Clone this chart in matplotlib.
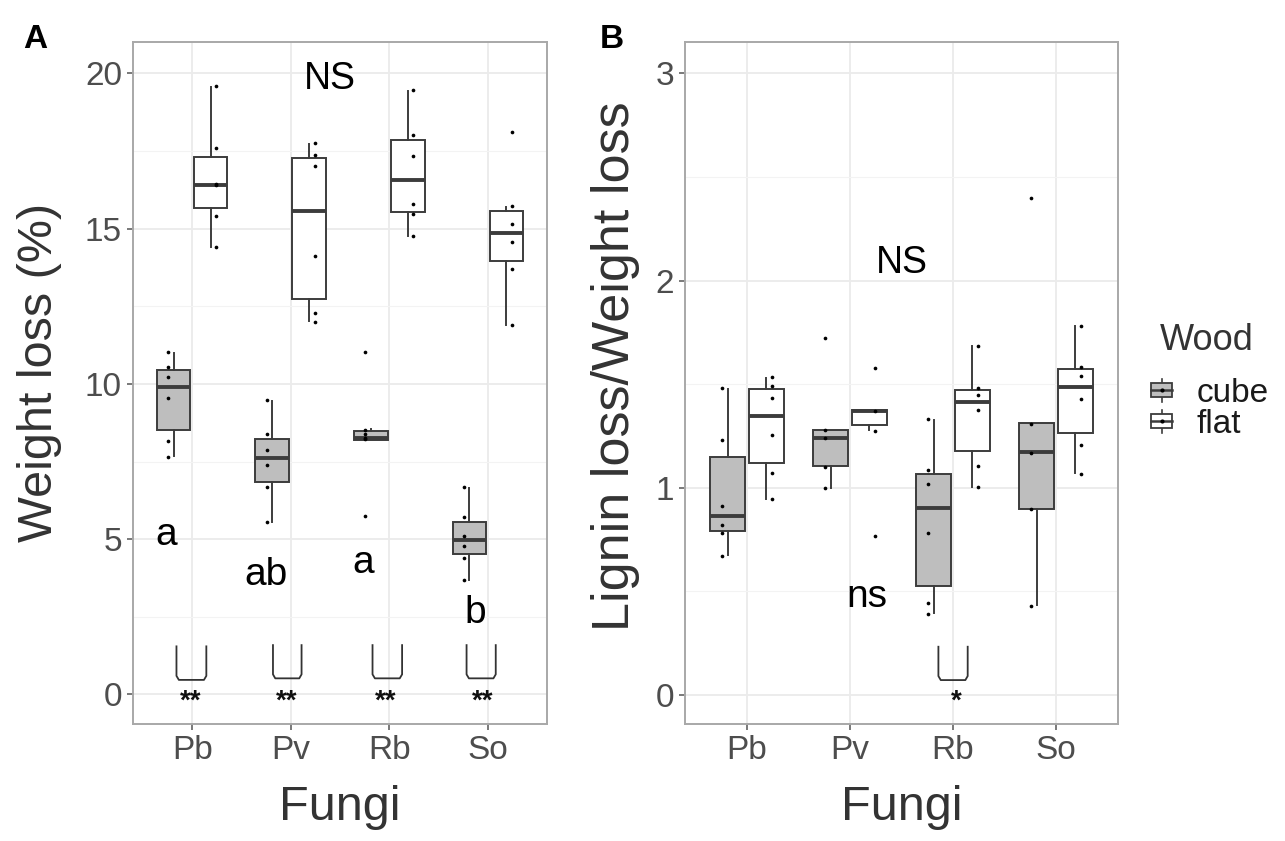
import matplotlib
matplotlib.use("Agg")
import matplotlib.pyplot as plt
from matplotlib.legend_handler import HandlerBase
from matplotlib.patches import Rectangle
from matplotlib.lines import Line2D

plt.rcParams['font.family'] = ['Liberation Sans', 'DejaVu Sans']

# ---------------- data ----------------
fungi = ["Pb", "Pv", "Rb", "So"]
woods = ["cube", "flat"]

# Panel A: weight loss (%) box statistics  [whislo, q1, med, q3, whishi]
A_cube_box = [[7.67, 8.51, 9.90, 10.46, 11.00],
              [5.56, 6.85, 7.63, 8.24, 9.45],
              [8.21, 8.21, 8.27, 8.48, 8.55],
              [3.70, 4.51, 4.97, 5.56, 6.65]]
A_flat_box = [[14.41, 15.65, 16.40, 17.31, 19.56],
              [12.02, 12.75, 15.56, 17.29, 17.74],
              [14.75, 15.54, 16.56, 17.87, 19.43],
              [11.91, 13.95, 14.86, 15.57, 15.70]]
A_cube_pts = [[11.02, 10.55, 10.23, 9.56, 8.16, 7.65],
              [9.47, 8.38, 7.87, 7.39, 6.68, 5.55],
              [11.02, 8.53, 8.40, 8.27, 8.22, 5.74],
              [6.68, 5.70, 5.10, 4.78, 4.40, 3.68]]
A_flat_pts = [[19.58, 17.60, 16.45, 16.40, 15.41, 14.41],
              [17.76, 17.38, 17.01, 14.12, 12.27, 12.00],
              [19.45, 18.03, 17.33, 15.79, 15.46, 14.75],
              [18.11, 15.72, 15.16, 14.56, 13.70, 11.89]]

# Panel B: lignin loss / weight loss
B_cube_box = [[0.676, 0.792, 0.866, 1.151, 1.477],
              [1.000, 1.103, 1.240, 1.277, 1.280],
              [0.395, 0.528, 0.902, 1.068, 1.325],
              [0.435, 0.899, 1.171, 1.312, 1.312]]
B_flat_box = [[0.947, 1.118, 1.345, 1.477, 1.530],
              [1.280, 1.301, 1.369, 1.377, 1.377],
              [1.006, 1.176, 1.412, 1.473, 1.686],
              [1.071, 1.264, 1.485, 1.575, 1.783]]
B_cube_pts = [[1.480, 1.232, 0.913, 0.821, 0.784, 0.671],
              [1.723, 1.280, 1.240, 1.100, 1.000],
              [1.330, 1.084, 1.018, 0.781, 0.443, 0.391],
              [2.400, 1.310, 1.170, 0.899, 0.431]]
B_flat_pts = [[1.535, 1.493, 1.433, 1.256, 1.071, 0.945],
              [1.578, 1.370, 1.275, 0.768],
              [1.686, 1.482, 1.449, 1.377, 1.106, 1.006],
              [1.783, 1.583, 1.541, 1.428, 1.208, 1.066]]

# annotations
A_letters = ["a", "ab", "a", "b"]
A_letter_xy = [(0.74, 4.81), (1.75, 3.52), (2.74, 3.90), (3.87, 2.29)]
A_sig = ["**", "**", "**", "**"]
A_brackets = [(0.841, 1.144, 1.55, 0.47), (1.82, 2.11, 1.59, 0.52),
              (2.83, 3.13, 1.59, 0.52), (3.784, 4.08, 1.59, 0.52)]
A_sig_x = [0.98, 1.96, 2.96, 3.95]
B_brackets = [(2.858, 3.142, 0.233, 0.072)]
B_sig = ["*"]
B_sig_x = [3.03]

cube_color = "#BEBEBE"
flat_color = "#FFFFFF"
edge = "#3C3C3C"

fig = plt.figure(figsize=(12.85, 8.41), dpi=100)
W, H = 1285, 841
axA = fig.add_axes([133 / W, 1 - 724 / H, (547 - 133) / W, (724 - 42) / H])
axB = fig.add_axes([685 / W, 1 - 724 / H, (1118 - 685) / W, (724 - 42) / H])


def to_stats(rows):
    return [dict(whislo=r[0], q1=r[1], med=r[2], q3=r[3], whishi=r[4], fliers=[])
            for r in rows]


def draw_panel(ax, cbox, fbox, cpts, fpts, ylim, yticks, yminor):
    xs = list(range(1, len(fungi) + 1))
    for rows, pts, fc, off in ((cbox, cpts, cube_color, -0.1875),
                               (fbox, fpts, flat_color, 0.1875)):
        ax.bxp(to_stats(rows), positions=[x + off for x in xs], widths=0.34,
               patch_artist=True, showfliers=False, showcaps=False,
               boxprops=dict(facecolor=fc, edgecolor=edge, linewidth=1.4),
               medianprops=dict(color=edge, linewidth=2.8, solid_capstyle='butt'),
               whiskerprops=dict(color=edge, linewidth=1.4),
               manage_ticks=False, zorder=3)
        poff = off * 1.3
        for x, p in zip(xs, pts):
            ax.scatter([x + poff] * len(p), p, s=7, color="black", zorder=5,
                       linewidths=0)
    ax.set_xlim(0.4, 4.6)
    ax.set_ylim(*ylim)
    ax.set_xticks(xs)
    ax.set_xticklabels(fungi)
    ax.set_yticks(yticks)
    ax.set_yticks(yminor, minor=True)
    ax.set_axisbelow(True)
    ax.grid(which="major", color="#EBEBEB", linewidth=1.3, zorder=0)
    ax.grid(which="minor", axis="y", color="#F3F3F3", linewidth=0.8, zorder=0)
    ax.tick_params(which="major", length=4, width=1.1, color="#555555",
                   labelsize=24, labelcolor="#4D4D4D", pad=4)
    ax.tick_params(which="minor", length=0)
    for s in ax.spines.values():
        s.set_color("#A8A8A8")
        s.set_linewidth(1.4)
    ax.set_xlabel("Fungi", fontsize=35, color="#333333")
    ax.xaxis.set_label_coords(0.5, -0.09)


def draw_bracket(ax, x0, x1, top, bot, dyfrac=0.12):
    dx = (x1 - x0) * 0.08
    dy = (top - bot) * dyfrac
    ax.plot([x0, x0, x0 + dx, x1 - dx, x1, x1],
            [top, bot + dy, bot, bot, bot + dy, top],
            color="#333333", linewidth=1.3, zorder=4, solid_joinstyle='round')


draw_panel(axA, A_cube_box, A_flat_box, A_cube_pts, A_flat_pts,
           (-0.95, 21.01), [0, 5, 10, 15, 20], [2.5, 7.5, 12.5, 17.5])
draw_panel(axB, B_cube_box, B_flat_box, B_cube_pts, B_flat_pts,
           (-0.14, 3.152), [0, 1, 2, 3], [0.5, 1.5, 2.5])

axA.set_ylabel("Weight loss (%)", fontsize=35, color="#333333")
axA.yaxis.set_label_coords(-0.171, 0.516)
axB.set_ylabel("Lignin loss/Weight loss", fontsize=37.5, color="#333333")
axB.yaxis.set_label_coords(-0.104, 0.525)

# Panel A annotations
axA.text(2.40, 19.51, "NS", fontsize=27, ha="center", va="baseline", color="black")
for t, (x, y) in zip(A_letters, A_letter_xy):
    axA.text(x, y, t, fontsize=28, ha="center", va="baseline", color="black")
for (x0, x1, top, bot), s, sx in zip(A_brackets, A_sig, A_sig_x):
    draw_bracket(axA, x0, x1, top, bot)
    axA.text(sx, -0.45, s, fontsize=20, fontweight="bold", ha="center",
             va="baseline", color="#111111")

# Panel B annotations
axB.text(2.50, 2.035, "NS", fontsize=27, ha="center", va="baseline", color="black")
axB.text(2.16, 0.426, "ns", fontsize=28, ha="center", va="baseline", color="black")
for (x0, x1, top, bot), s, sx in zip(B_brackets, B_sig, B_sig_x):
    draw_bracket(axB, x0, x1, top, bot)
    axB.text(sx, -0.065, s, fontsize=20, fontweight="bold", ha="center",
             va="baseline", color="#111111")

fig.text(35 / W, 1 - 40 / H, "A", fontsize=24, fontweight="bold", ha="center", va="center")
fig.text(612 / W, 1 - 40 / H, "B", fontsize=24, fontweight="bold", ha="center", va="center")


class BoxKey(HandlerBase):
    def create_artists(self, legend, orig, xd, yd, w, h, fs, trans):
        fc = orig.get_facecolor()
        x0, y0 = -xd, -yd
        bw = w * 0.9
        bx = x0 + (w - bw) / 2
        bh = h * 0.6
        by = y0 + (h - bh) / 2
        cx = x0 + w / 2
        arts = [
            Line2D([cx, cx], [y0, by], color=edge, lw=1.2, transform=trans),
            Line2D([cx, cx], [by + bh, y0 + h], color=edge, lw=1.2, transform=trans),
            Rectangle((bx, by), bw, bh, facecolor=fc, edgecolor=edge, lw=1.3,
                      transform=trans),
            Line2D([bx, bx + bw], [y0 + h / 2] * 2, color=edge, lw=1.8, transform=trans),
            Line2D([cx], [y0 + h / 2], marker="o", ms=2, color="black",
                   linestyle="none", transform=trans),
        ]
        return arts


# legend title
fig.text(1207 / W, 1 - 341 / H, "Wood", fontsize=26, ha="center", va="center",
         color="#333333")
handles = [Rectangle((0, 0), 1, 1, facecolor=cube_color),
           Rectangle((0, 0), 1, 1, facecolor=flat_color)]
leg = fig.legend(handles=handles, labels=woods,
                 handler_map={Rectangle: BoxKey()},
                 loc="upper left", bbox_to_anchor=(1150 / W, 1 - 378 / H),
                 frameon=False, fontsize=24, borderaxespad=0, borderpad=0,
                 handlelength=0.7, handleheight=0.68, handletextpad=0.7,
                 labelspacing=0.0)
for t in leg.get_texts():
    t.set_color("#1A1A1A")

fig.savefig("out.png", dpi=100)
